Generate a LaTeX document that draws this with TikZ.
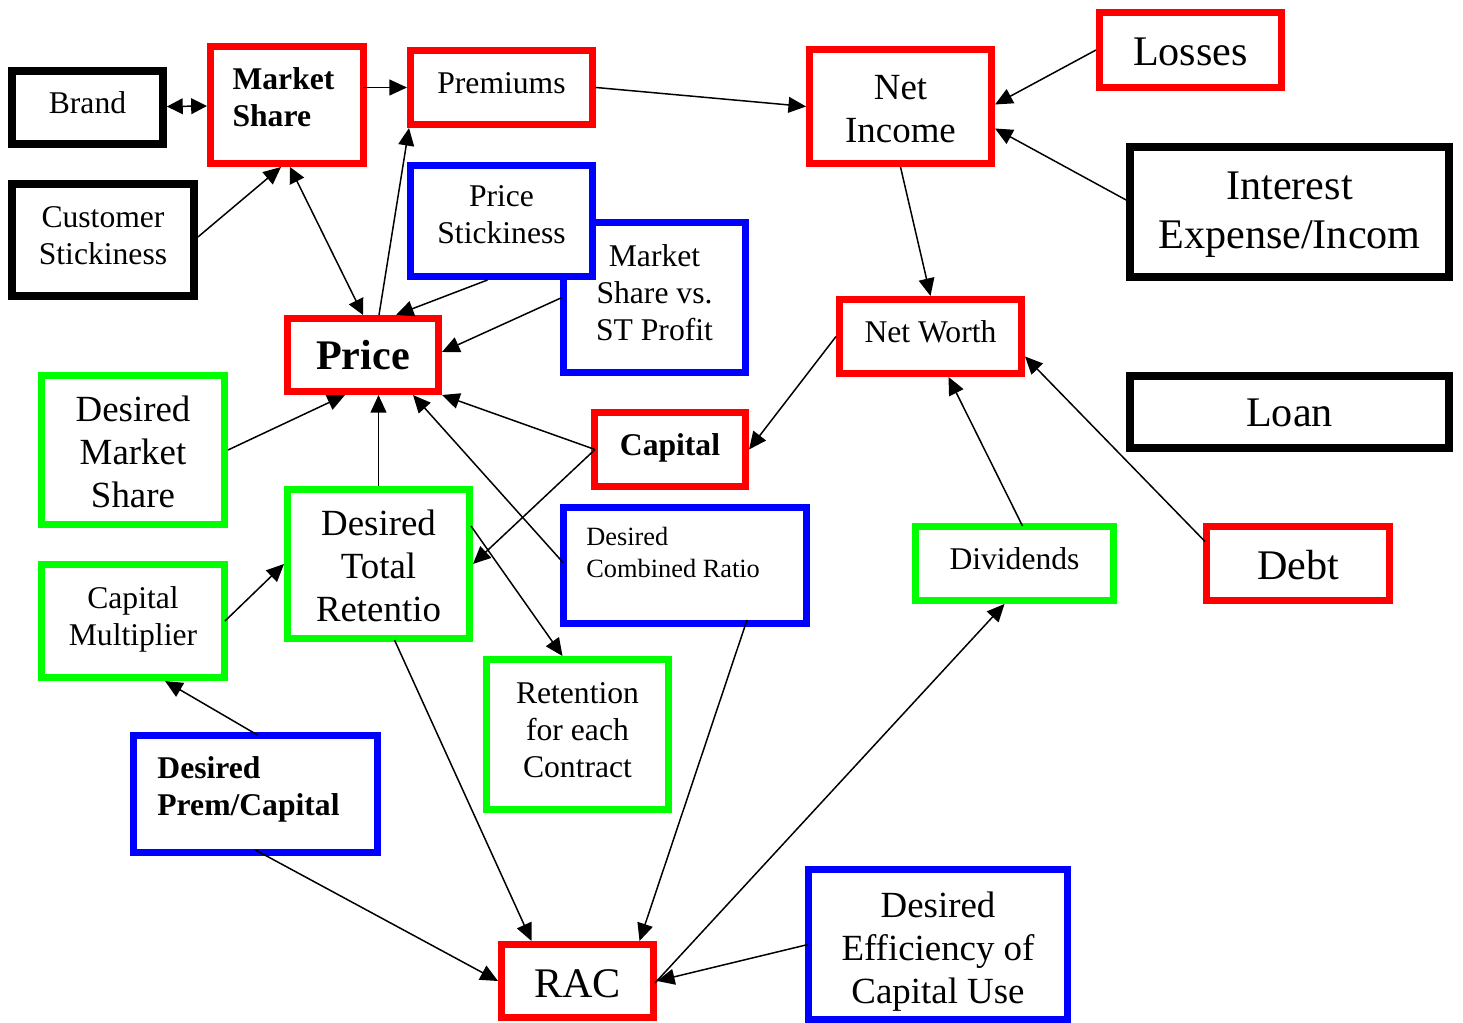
\documentclass[tikz,border=0pt]{standalone}
\usepackage{fontspec}
\setmainfont{Liberation Serif}
\usetikzlibrary{arrows.meta,calc}

\def\liftamt{0pt}
\def\colspec{c}
\def\colleft{l}
\newcommand{\boxlines}[1]{\raisebox{\liftamt}[\height][\depth]{%
  \ifx\colspec\colleft\begin{tabular}{@{}l@{}}#1\end{tabular}%
  \else\begin{tabular}{@{}c@{}}#1\end{tabular}\fi}}

\tikzset{
  box/.style={draw, line width=4pt, fill=white, inner sep=0pt},
  lift/.code={\def\liftamt{#1}},
  leftalign/.code={\def\colspec{l}},
  redbox/.style={box, draw=red},
  greenbox/.style={box, draw=green},
  bluebox/.style={box, draw=blue},
  blackbox/.style={box, draw=black, line width=4.5pt},
  sz/.style 2 args={minimum width=#1cm, minimum height=#2cm},
  t15/.style={font=\fontsize{15}{18}\selectfont},
  t18/.style={font=\fontsize{18}{21}\selectfont, lift=1pt},
  t18b/.style={font=\fontsize{18}{21}\selectfont\bfseries, lift=1pt},
  t21/.style={font=\fontsize{21}{24.5}\selectfont, lift=-3.5pt},
  t24/.style={font=\fontsize{24}{28}\selectfont, lift=-3.7pt},
  t24b/.style={font=\fontsize{24}{28}\selectfont\bfseries, lift=-2.5pt},
  arr/.style={-{Triangle[length=10pt,width=9pt]}, line width=0.85pt},
  dbl/.style={{Triangle[length=9pt,width=9pt]}-{Triangle[length=9pt,width=9pt]}, line width=0.85pt}
}

\begin{document}
\begin{tikzpicture}[x=0.02cm, y=-0.02cm]
\useasboundingbox (0,0) rectangle (1463,1023);

% boxes, top row
\node[blackbox, t18, sz={3.02}{1.46}] (brand) at (87.5,107.5) {\boxlines{Brand}};
\node[redbox, t18b, lift=2.5pt, leftalign, sz={3.06}{2.34}] (mshare) at (287,105) {\boxlines{Market\hspace*{4pt}\\Share}};
\node[redbox, t18, sz={3.64}{1.48}] (prem) at (501.5,87.5) {\boxlines{Premiums}};
\node[redbox, t21, sz={3.64}{2.28}] (netinc) at (900.5,106.5) {\boxlines{Net\\Income}};
\node[redbox, t24, lift=-3pt, sz={3.64}{1.5}] (losses) at (1190.5,50) {\boxlines{Losses}};
\node[blackbox, t24, lift=-1.2pt, sz={6.38}{2.6}] (interest) at (1289.5,212) {\boxlines{Interest\\Expense/Incom}};
\node[blackbox, t18, sz={3.64}{2.24}] (custst) at (103,240) {\boxlines{Customer\\Stickiness}};

% price block
\node[bluebox, t18, sz={3.64}{3.0}] (msvs) at (654.5,297.5) {\boxlines{Market\\Share vs.\\ST Profit}};
\node[bluebox, t18, lift=2pt, sz={3.64}{2.22}] (pstick) at (501.5,221) {\boxlines{Price\\Stickiness}};
\node[redbox, t24b, sz={3.02}{1.46}] (price) at (363,355) {\boxlines{Price}};
\node[redbox, t18, sz={3.64}{1.48}] (networth) at (930.5,336.5) {\boxlines{Net Worth}};
\node[blackbox, t24, lift=-2.6pt, sz={6.38}{1.44}] (loan) at (1289.5,412) {\boxlines{Loan}};

% middle
\node[greenbox, t21, sz={3.66}{2.98}] (dms) at (133,450) {\boxlines{Desired\\Market\\Share}};
\node[redbox, t18b, sz={3.02}{1.48}] (capital) at (670,449.5) {\boxlines{Capital}};
\node[greenbox, t21, sz={3.64}{2.98}] (dtr) at (378.5,564) {\boxlines{Desired\\Total\\Retentio}};
\node[bluebox, sz={4.86}{2.32}] (dcr) at (685,565.5) {};
\node[t15, align=left, inner sep=0pt, anchor=north west] (dcrtext) at ($(dcr.north west)+(26,23)$) {Desired\\Combined Ratio};
\node[greenbox, t18, sz={3.96}{1.48}] (div) at (1014.5,563.5) {\boxlines{Dividends}};
\node[redbox, t24, sz={3.66}{1.48}] (debt) at (1298,563.5) {\boxlines{Debt}};
\node[greenbox, t18, sz={3.66}{2.26}] (capmult) at (133,621) {\boxlines{Capital\\Multiplier}};

% bottom
\node[greenbox, t18, sz={3.64}{3.0}] (ret) at (577.5,734.5) {\boxlines{Retention\\for each\\Contract}};
\node[bluebox, t18b, lift=2.5pt, leftalign, sz={4.88}{2.34}] (dpc) at (255.5,794) {\boxlines{Desired\\Prem/Capital\hspace*{8pt}}};
\node[bluebox, t21, lift=-4pt, sz={5.18}{3.0}] (deff) at (938,944.5) {\boxlines{Desired\\Efficiency of\\Capital Use}};
\node[redbox, t24, sz={3.04}{1.46}] (rac) at (577.5,981) {\boxlines{RAC}};

% connectors
\draw[dbl] (brand) -- (mshare);
\draw[arr] ($(mshare.east |- prem.west)+(-4,0)$) -- (prem.west);
\draw[arr] (prem.east) -- (netinc.west);
\draw[arr] (losses.west) -- ($(netinc.east)+(0,-2)$);
\draw[arr] ($(interest.west)+(0,-12)$) -- ($(netinc.east)+(0,22)$);
\draw[arr] (netinc.south) -- (networth.north);
\draw[arr] ($(custst.east)+(0,-3)$) -- ($(mshare.south)+(-6,0)$);
\draw[dbl] ($(mshare.south)+(3,0)$) -- (price.north);
\draw[arr] ($(price.north)+(16,0)$) -- ($(prem.south west)+(2,0)$);
\draw[arr] ($(pstick.south)+(-14,0)$) -- ($(price.north)+(33,0)$);
\draw[arr] ($(msvs.west)+(2,0)$) -- ($(price.east)+(0,-3)$);
\draw[arr] (dms.east) -- ($(price.south)+(-18,0)$);
\draw[arr] (dtr.north) -- (dtr.north |- price.south);
\draw[arr] ($(dcr.west)+(3,-3)$) -- ($(price.south)+(50,0)$);
\draw[arr] ($(capital.west)+(4,0)$) -- (price.south east);
\draw[arr] ($(capital.west)+(4,0)$) -- (dtr.east);
\draw[arr] (networth.west) -- (capital.east);
\draw[arr] ($(dtr.east)+(-2,-38)$) -- ($(ret.north)+(-15,0)$);
\draw[arr] ($(div.north)+(8,3)$) -- ($(networth.south)+(18,0)$);
\draw[arr] ($(debt.west)+(2,-22)$) -- ($(networth.east)+(0,20)$);
\draw[arr] ($(capmult.east)+(-3,0)$) -- (dtr.west);
\draw[arr] ($(dpc.north)+(2,3)$) -- ($(capmult.south)+(32,0)$);
\draw[arr] ($(dtr.south)+(16,-2)$) -- ($(rac.north)+(-46,0)$);
\draw[arr] ($(dcr.south east)+(-63,-7)$) -- ($(rac.north)+(62,0)$);
\draw[arr] ($(rac.east)+(-2,2)$) -- ($(div.south)+(-10,0)$);
\draw[arr] ($(deff.west)+(3,0)$) -- (rac.east);
\draw[arr] ($(dpc.south)+(0,-6)$) -- (rac.west);

\end{tikzpicture}
\end{document}
